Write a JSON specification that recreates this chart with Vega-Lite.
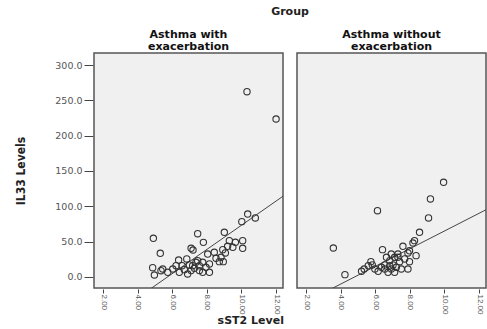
{
  "$schema": "https://vega.github.io/schema/vega-lite/v6.json",
  "padding": {"left": 14, "top": 6, "right": 0, "bottom": 0},
  "background": "white",
  "title": {"text": "sST2 Level", "orient": "bottom", "anchor": "middle", "font": "DejaVu Sans", "fontSize": 11, "fontWeight": "bold", "color": "#222", "offset": 1},
  "data": {"values": [
    {"g":"Asthma with exacerbation","t":"pt","x":10.32,"y":262.2},
    {"g":"Asthma with exacerbation","t":"pt","x":12.0,"y":223.6},
    {"g":"Asthma with exacerbation","t":"pt","x":10.36,"y":89.1},
    {"g":"Asthma with exacerbation","t":"pt","x":10.8,"y":83.5},
    {"g":"Asthma with exacerbation","t":"pt","x":10.02,"y":78.3},
    {"g":"Asthma with exacerbation","t":"pt","x":4.91,"y":54.7},
    {"g":"Asthma with exacerbation","t":"pt","x":7.47,"y":61.3},
    {"g":"Asthma with exacerbation","t":"pt","x":9.01,"y":63.2},
    {"g":"Asthma with exacerbation","t":"pt","x":5.31,"y":33.5},
    {"g":"Asthma with exacerbation","t":"pt","x":7.8,"y":49},
    {"g":"Asthma with exacerbation","t":"pt","x":7.09,"y":40.6},
    {"g":"Asthma with exacerbation","t":"pt","x":7.2,"y":38.2},
    {"g":"Asthma with exacerbation","t":"pt","x":9.3,"y":51.4},
    {"g":"Asthma with exacerbation","t":"pt","x":9.65,"y":49.1},
    {"g":"Asthma with exacerbation","t":"pt","x":10.07,"y":51.4},
    {"g":"Asthma with exacerbation","t":"pt","x":9.2,"y":43.4},
    {"g":"Asthma with exacerbation","t":"pt","x":9.5,"y":42},
    {"g":"Asthma with exacerbation","t":"pt","x":10.07,"y":40.6},
    {"g":"Asthma with exacerbation","t":"pt","x":8.92,"y":38.7},
    {"g":"Asthma with exacerbation","t":"pt","x":9.07,"y":34},
    {"g":"Asthma with exacerbation","t":"pt","x":8.05,"y":32.5},
    {"g":"Asthma with exacerbation","t":"pt","x":8.53,"y":26.4},
    {"g":"Asthma with exacerbation","t":"pt","x":8.82,"y":27.9},
    {"g":"Asthma with exacerbation","t":"pt","x":8.95,"y":21.7},
    {"g":"Asthma with exacerbation","t":"pt","x":6.37,"y":24},
    {"g":"Asthma with exacerbation","t":"pt","x":6.84,"y":25.5},
    {"g":"Asthma with exacerbation","t":"pt","x":7.47,"y":23.1},
    {"g":"Asthma with exacerbation","t":"pt","x":7.76,"y":20.8},
    {"g":"Asthma with exacerbation","t":"pt","x":8.15,"y":18.4},
    {"g":"Asthma with exacerbation","t":"pt","x":4.87,"y":13.2},
    {"g":"Asthma with exacerbation","t":"pt","x":5.45,"y":11.3},
    {"g":"Asthma with exacerbation","t":"pt","x":6.03,"y":11.3},
    {"g":"Asthma with exacerbation","t":"pt","x":6.57,"y":16},
    {"g":"Asthma with exacerbation","t":"pt","x":6.99,"y":17},
    {"g":"Asthma with exacerbation","t":"pt","x":7.28,"y":12.3},
    {"g":"Asthma with exacerbation","t":"pt","x":6.7,"y":10.4},
    {"g":"Asthma with exacerbation","t":"pt","x":7.09,"y":9},
    {"g":"Asthma with exacerbation","t":"pt","x":4.97,"y":2.8},
    {"g":"Asthma with exacerbation","t":"pt","x":5.74,"y":6.6},
    {"g":"Asthma with exacerbation","t":"pt","x":6.41,"y":6.6},
    {"g":"Asthma with exacerbation","t":"pt","x":6.89,"y":4.2},
    {"g":"Asthma with exacerbation","t":"pt","x":7.57,"y":9},
    {"g":"Asthma with exacerbation","t":"pt","x":8.15,"y":6.6},
    {"g":"Asthma with exacerbation","t":"pt","x":7.76,"y":6.6},
    {"g":"Asthma with exacerbation","t":"pt","x":7.37,"y":20.8},
    {"g":"Asthma with exacerbation","t":"pt","x":7.18,"y":16},
    {"g":"Asthma with exacerbation","t":"pt","x":7.57,"y":16},
    {"g":"Asthma with exacerbation","t":"pt","x":7.95,"y":13.7},
    {"g":"Asthma with exacerbation","t":"pt","x":5.35,"y":8.9},
    {"g":"Asthma with exacerbation","t":"pt","x":6.22,"y":16},
    {"g":"Asthma with exacerbation","t":"pt","x":8.72,"y":21.7},
    {"g":"Asthma with exacerbation","t":"pt","x":8.43,"y":35},
    {"g":"Asthma with exacerbation","t":"fit","x":1.5,"y":-72.3},
    {"g":"Asthma with exacerbation","t":"fit","x":12.5,"y":116},
    {"g":"Asthma without exacerbation","t":"pt","x":9.95,"y":134},
    {"g":"Asthma without exacerbation","t":"pt","x":9.19,"y":110.4},
    {"g":"Asthma without exacerbation","t":"pt","x":6.13,"y":93.8},
    {"g":"Asthma without exacerbation","t":"pt","x":9.08,"y":83.5},
    {"g":"Asthma without exacerbation","t":"pt","x":8.56,"y":63.2},
    {"g":"Asthma without exacerbation","t":"pt","x":3.58,"y":41},
    {"g":"Asthma without exacerbation","t":"pt","x":6.42,"y":38.7},
    {"g":"Asthma without exacerbation","t":"pt","x":8.27,"y":51.4},
    {"g":"Asthma without exacerbation","t":"pt","x":8.18,"y":48.1},
    {"g":"Asthma without exacerbation","t":"pt","x":7.6,"y":43.4},
    {"g":"Asthma without exacerbation","t":"pt","x":7.89,"y":34},
    {"g":"Asthma without exacerbation","t":"pt","x":8.36,"y":30.2},
    {"g":"Asthma without exacerbation","t":"pt","x":7.31,"y":32.5},
    {"g":"Asthma without exacerbation","t":"pt","x":7.12,"y":27.8},
    {"g":"Asthma without exacerbation","t":"pt","x":4.25,"y":3.3},
    {"g":"Asthma without exacerbation","t":"pt","x":5.21,"y":8},
    {"g":"Asthma without exacerbation","t":"pt","x":5.36,"y":11.3},
    {"g":"Asthma without exacerbation","t":"pt","x":5.75,"y":21.7},
    {"g":"Asthma without exacerbation","t":"pt","x":5.83,"y":17},
    {"g":"Asthma without exacerbation","t":"pt","x":6.17,"y":8},
    {"g":"Asthma without exacerbation","t":"pt","x":6.36,"y":13.7},
    {"g":"Asthma without exacerbation","t":"pt","x":6.55,"y":17},
    {"g":"Asthma without exacerbation","t":"pt","x":6.84,"y":23},
    {"g":"Asthma without exacerbation","t":"pt","x":6.93,"y":11.3},
    {"g":"Asthma without exacerbation","t":"pt","x":6.74,"y":6.6},
    {"g":"Asthma without exacerbation","t":"pt","x":7.12,"y":6.6},
    {"g":"Asthma without exacerbation","t":"pt","x":7.03,"y":17},
    {"g":"Asthma without exacerbation","t":"pt","x":7.41,"y":21.7},
    {"g":"Asthma without exacerbation","t":"pt","x":7.51,"y":11.3},
    {"g":"Asthma without exacerbation","t":"pt","x":7.89,"y":11.3},
    {"g":"Asthma without exacerbation","t":"pt","x":7.7,"y":25.5},
    {"g":"Asthma without exacerbation","t":"pt","x":7.98,"y":21.7},
    {"g":"Asthma without exacerbation","t":"pt","x":6.55,"y":11.3},
    {"g":"Asthma without exacerbation","t":"pt","x":6.84,"y":16},
    {"g":"Asthma without exacerbation","t":"pt","x":7.22,"y":13.7},
    {"g":"Asthma without exacerbation","t":"pt","x":5.98,"y":11.3},
    {"g":"Asthma without exacerbation","t":"pt","x":5.6,"y":16},
    {"g":"Asthma without exacerbation","t":"pt","x":7.31,"y":27.8},
    {"g":"Asthma without exacerbation","t":"pt","x":6.65,"y":27.8},
    {"g":"Asthma without exacerbation","t":"pt","x":6.93,"y":32.5},
    {"g":"Asthma without exacerbation","t":"pt","x":7.98,"y":37},
    {"g":"Asthma without exacerbation","t":"fit","x":1.5,"y":-41.4},
    {"g":"Asthma without exacerbation","t":"fit","x":12.5,"y":96.4}
  ]},
  "facet": {
    "column": {
      "field": "g", "type": "nominal", "title": "Group",
      "header": {
        "titleFont": "DejaVu Sans", "titleFontSize": 11, "titleFontWeight": "bold", "titleColor": "#222", "titlePadding": 2,
        "labelFont": "DejaVu Sans", "labelFontSize": 11, "labelFontWeight": "bold", "labelColor": "#111",
        "labelLineHeight": 12, "labelPadding": 0,
        "labelExpr": "[replace(datum.value, ' exacerbation', ''), 'exacerbation']"
      }
    }
  },
  "spacing": 12,
  "spec": {
    "width": 189,
    "height": 235,
    "encoding": {
      "x": {"field": "x", "type": "quantitative", "title": null,
        "scale": {"domain": [1.48, 12.4], "nice": false, "zero": false},
        "axis": {"values": [2,4,6,8,10,12], "format": ".2f", "labelAngle": 90, "labelAlign": "left", "labelBaseline": "middle",
          "labelFontSize": 8, "labelColor": "#555", "labelFont": "Liberation Sans", "tickSize": 4, "tickColor": "#444", "domain": false, "grid": false, "labelPadding": 1}},
      "y": {"field": "y", "type": "quantitative", "title": "IL33 Levels",
        "scale": {"domain": [-15.6, 317], "nice": false, "zero": false},
        "axis": {"values": [0,50,100,150,200,250,300], "format": ".1f", "labelFontSize": 9.5, "labelColor": "#555", "labelFont": "DejaVu Sans",
          "tickSize": 9, "tickColor": "#444", "domain": false, "grid": false, "labelPadding": 2,
          "titleFont": "DejaVu Sans Condensed", "titleFontSize": 12, "titleFontWeight": "bold", "titleColor": "#222", "titlePadding": 27}}
    },
    "layer": [
      {"transform": [{"filter": "datum.t == 'fit'"}],
       "mark": {"type": "line", "clip": true, "color": "#444", "strokeWidth": 1}},
      {"transform": [{"filter": "datum.t == 'pt'"}],
       "mark": {"type": "point", "shape": "circle", "filled": false, "size": 40, "stroke": "#333", "strokeWidth": 1.1, "opacity": 1}}
    ]
  },
  "config": {
    "view": {"fill": "#f0f0f0", "stroke": "#555", "strokeWidth": 1.5}
  }
}
